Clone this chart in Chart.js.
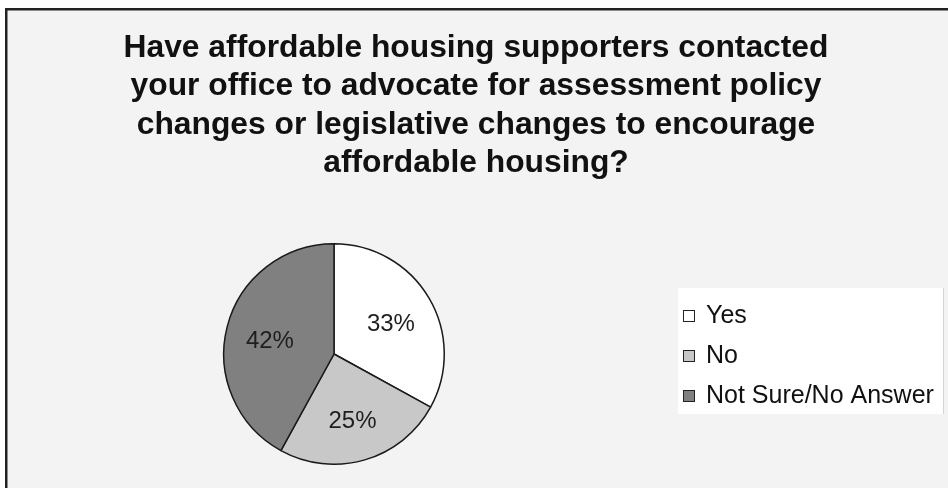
<!DOCTYPE html>
<html>
<head>
<meta charset="utf-8">
<script src="https://cdn.jsdelivr.net/npm/chart.js@4/dist/chart.umd.min.js"></script>
<style>
  html, body { margin: 0; padding: 0; background: #ffffff; }
  canvas { display: block; }
</style>
</head>
<body>
<canvas id="housingChart" width="948" height="488"></canvas>
<script>
// Survey answers
const answers = ["Yes", "No", "Not Sure/No Answer"];
const shares = [33, 25, 42];
const titleLines = [
  "Have affordable housing supporters contacted",
  "your office to advocate for assessment policy",
  "changes or legislative changes to encourage",
  "affordable housing?"
];

// Greyscale fills for each slice
const sliceColors = ["#ffffff", "#c8c8c8", "#808080"];
const FONT = "'Liberation Sans', Arial, sans-serif";

// Panel background, frame, title and legend box
const panelPlugin = {
  id: "panel",
  beforeDraw(chart) {
    const ctx = chart.ctx;
    ctx.save();
    ctx.fillStyle = "#ffffff";
    ctx.fillRect(0, 0, chart.width, chart.height);
    ctx.fillStyle = "#f3f3f3";
    ctx.fillRect(6, 9, chart.width, chart.height);
    ctx.strokeStyle = "#222222";
    ctx.lineWidth = 2.5;
    ctx.beginPath();
    ctx.moveTo(6.25, chart.height + 2);
    ctx.lineTo(6.25, 9.25);
    ctx.lineTo(chart.width + 2, 9.25);
    ctx.stroke();

    // title
    ctx.fillStyle = "#111111";
    ctx.font = "bold 31.8px " + FONT;
    ctx.textAlign = "center";
    ctx.textBaseline = "alphabetic";
    titleLines.forEach((line, i) => {
      ctx.fillText(line, 476, 57 + i * 38.3);
    });

    // legend panel
    ctx.fillStyle = "#ffffff";
    ctx.fillRect(678, 288, 265, 126);
    ctx.strokeStyle = "#d4d4d4";
    ctx.lineWidth = 1;
    ctx.beginPath();
    ctx.moveTo(943.5, 288);
    ctx.lineTo(943.5, 414);
    ctx.stroke();
    ctx.restore();
  },
  afterDraw(chart) {
    const ctx = chart.ctx;
    const ds = chart.data.datasets[0];
    ctx.save();
    ctx.font = "25px " + FONT;
    ctx.textAlign = "left";
    ctx.textBaseline = "alphabetic";
    chart.data.labels.forEach((label, i) => {
      const cy = 316 + i * 40;
      ctx.fillStyle = ds.backgroundColor[i];
      ctx.fillRect(683.5, cy - 5.5, 11, 11);
      ctx.strokeStyle = "#222222";
      ctx.lineWidth = 1;
      ctx.strokeRect(683.5, cy - 5.5, 11, 11);
      ctx.fillStyle = "#111111";
      ctx.fillText(label, 706, cy + 7);
    });
    ctx.restore();
  }
};

// Percentage labels inside each slice, nudged slightly toward the lower half
const sliceLabels = {
  id: "sliceLabels",
  afterDatasetsDraw(chart) {
    const ctx = chart.ctx;
    const meta = chart.getDatasetMeta(0);
    ctx.save();
    ctx.font = "24px " + FONT;
    ctx.fillStyle = "#1e1e1e";
    ctx.textAlign = "center";
    ctx.textBaseline = "middle";
    meta.data.forEach((arc, i) => {
      const p = arc.getProps(["x", "y", "startAngle", "endAngle", "outerRadius"], true);
      const mid = (p.startAngle + p.endAngle) / 2;
      const r = p.outerRadius * 0.6;
      ctx.fillText(shares[i] + "%", p.x + Math.cos(mid) * r, p.y + Math.sin(mid) * r + 4);
    });
    ctx.restore();
  }
};

new Chart(document.getElementById("housingChart").getContext("2d"), {
  type: "pie",
  data: {
    labels: answers,
    datasets: [
      {
        data: shares,
        backgroundColor: sliceColors,
        borderColor: "#1a1a1a",
        borderWidth: 1.5,
      },
    ],
  },
  options: {
    responsive: false,
    animation: false,
    layout: {
      padding: { left: 223, right: 503, top: 243, bottom: 23 },
    },
    plugins: {
      legend: { display: false },
      title: { display: false },
      tooltip: { enabled: false },
    },
  },
  plugins: [panelPlugin, sliceLabels],
});
</script>
</body>
</html>
